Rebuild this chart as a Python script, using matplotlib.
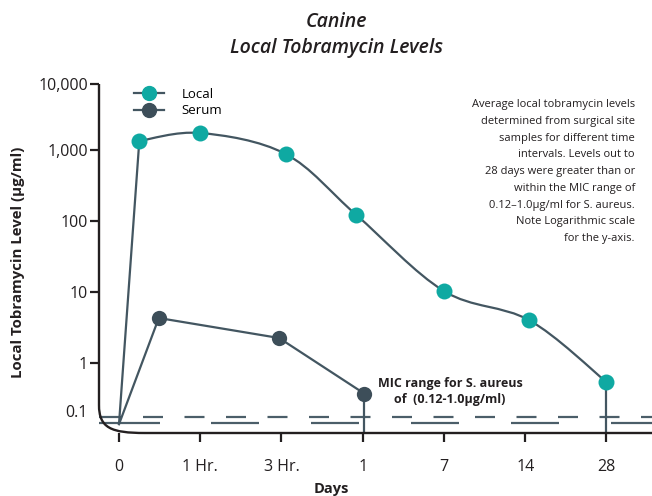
import numpy as np
import matplotlib
matplotlib.use("Agg")
import matplotlib.pyplot as plt
from matplotlib.path import Path
from matplotlib.patches import PathPatch
from matplotlib.lines import Line2D

# Category labels on the x-axis (evenly spaced slots)
day_labels = ["0", "1 Hr.", "3 Hr.", "1", "7", "14", "28"]

# Local levels (ug/ml); first entry is the start of the line at time zero
local_x = [0, 0.25, 1.0, 2.05, 2.92, 4.0, 5.05, 6.0]
local_y = [0.05, 1370, 1810, 880, 122, 10.3, 4.0, 0.40]

# Serum levels (ug/ml)
serum_x = [0, 0.49, 1.97, 3.02]
serum_y = [0.05, 4.3, 2.25, 0.23]

# MIC band lines (drawn just above the floor of the axis)
mic_upper = 0.073
mic_lower = 0.053

y_tick_values = [0.1, 1, 10, 100, 1000, 10000]
y_tick_labels = ["0.1", "1", "10", "100", "1,000", "10,000"]

note_text = ("Average local tobramycin levels\n"
             "determined from surgical site\n"
             "samples for different time\n"
             "intervals. Levels out to\n"
             "28 days were greater than or\n"
             "within the MIC range of\n"
             "0.12\u20131.0\u00b5g/ml for S. aureus.\n"
             "Note Logarithmic scale\n"
             "for the y-axis.")

teal = "#0fa9a2"
slate = "#3d4e59"
line_col = "#435661"
ink = "#231f20"

# the original axis is a log scale with uneven decade spacing
knots_log = [-1.5, -1, 0, 1, 2, 3, 4]
knots_u = [0, 22, 70, 141, 212, 283, 349]


def fwd(v):
    v = np.clip(np.asarray(v, dtype=float), 1e-9, None)
    return np.interp(np.log10(v), knots_log, knots_u)


def inv(u):
    return 10 ** np.interp(np.asarray(u, dtype=float), knots_u, knots_log)


plt.rcParams["font.family"] = ["Open Sans", "DejaVu Sans"]
plt.rcParams["lines.scale_dashes"] = False

W, H = 652, 496
PT = 72 / 100  # points per pixel
fig = plt.figure(figsize=(W / 100, H / 100), dpi=100)
ax = fig.add_axes([99 / W, 63 / H, 553 / W, 349 / H])
ax.set_yscale("function", functions=(fwd, inv))
ax.set_ylim(10 ** -1.5, 1e4)
ax.set_xlim(-0.246, 6.56)

for s in ax.spines.values():
    s.set_visible(False)

# rounded corner axis line
def axpt(px, py):
    return ((px - 99) / 553, (433 - py) / 349)

verts = [axpt(99, 84), axpt(99, 405), axpt(99, 428), axpt(111, 433),
         axpt(145, 433), axpt(652, 433)]
codes = [Path.MOVETO, Path.LINETO, Path.CURVE4, Path.CURVE4, Path.CURVE4,
         Path.LINETO]
ax.add_patch(PathPatch(Path(verts, codes), fill=False, edgecolor=ink, lw=1.7,
                       transform=ax.transAxes, clip_on=False, zorder=4))

# MIC dashed lines
upper_dash = [d * PT for d in [22, 22] + [20, 21.5] * 14]
lower_dash = [d * PT for d in [61, 51] + [48, 52] * 6]
ax.axhline(mic_upper, color="#4b5e69", lw=1.6, dashes=upper_dash, zorder=1)
ax.axhline(mic_lower, color="#4b5e69", lw=1.6, dashes=lower_dash, zorder=1)

# serum line (straight segments)
ax.plot(serum_x, serum_y, color=line_col, lw=1.6, zorder=2)
ax.vlines(serum_x[-1], 10 ** -1.5, serum_y[-1], color=line_col, lw=1.6, zorder=2)

# local line: straight rise, then smooth curve through the points
tr = ax.yaxis.get_transform()
px = np.array(local_x[1:], dtype=float)
pu = tr.transform(np.array(local_y[1:], dtype=float))
pts = np.column_stack([px, pu])
ext = np.vstack([pts[0], pts, pts[-1]])
verts = [(local_x[0], local_y[0]), (local_x[1], local_y[1])]
codes = [Path.MOVETO, Path.LINETO]
for i in range(1, len(ext) - 2):
    p0, p1, p2, p3 = ext[i - 1], ext[i], ext[i + 1], ext[i + 2]
    c1 = p1 + (p2 - p0) / 6
    c2 = p2 - (p3 - p1) / 6
    for c in (c1, c2, p2):
        verts.append((c[0], float(tr.inverted().transform(np.array([c[1]]))[0])))
        codes.append(Path.CURVE4)
ax.add_patch(PathPatch(Path(verts, codes), fill=False, edgecolor=line_col,
                       lw=1.6, transform=ax.transData, zorder=2))
ax.vlines(local_x[-1], 10 ** -1.5, local_y[-1], color=line_col, lw=1.6, zorder=2)

# markers
ax.plot(local_x[1:], local_y[1:], "o", color=teal, ms=11.5, mec="none", zorder=3)
ax.plot(serum_x[1:], serum_y[1:], "o", color=slate, ms=11, mec="none", zorder=3)

# ticks
ax.set_xticks(range(len(day_labels)))
ax.set_xticklabels(day_labels)
ax.set_yticks(y_tick_values)
ax.set_yticklabels(y_tick_labels)
ax.yaxis.set_minor_locator(matplotlib.ticker.NullLocator())
ax.tick_params(axis="x", length=6.5, width=1.6, color=ink, pad=12,
               labelsize=11.5, labelcolor=ink)
ax.tick_params(axis="y", length=6.5, width=1.6, color=ink, pad=1.5,
               labelsize=11.5, labelcolor=ink)
ax.yaxis.get_major_ticks()[0].tick1line.set_visible(False)

# legend
handles = [
    Line2D([], [], color=line_col, lw=1.6, marker="o", ms=10, mfc=teal, mec=teal),
    Line2D([], [], color=line_col, lw=1.6, marker="o", ms=10, mfc=slate, mec=slate),
]
ax.legend(handles, ["Local", "Serum"], loc="upper left",
          bbox_to_anchor=(134 / W, 1 - 88 / H), bbox_transform=fig.transFigure,
          frameon=False, fontsize=9.5, handlelength=2.3, handletextpad=1.3,
          labelspacing=0.25, borderpad=0, borderaxespad=0)

# titles and labels
fig.text(336 / W, 1 - 22 / H, "Canine", ha="center", va="center",
         fontsize=14, fontweight="semibold", style="italic", color=ink)
fig.text(337 / W, 1 - 48 / H, "Local Tobramycin Levels", ha="center",
         va="center", fontsize=14, fontweight="semibold", style="italic",
         color=ink)
fig.text(18 / W, 1 - 262 / H, "Local Tobramycin Level (\u00b5g/ml)",
         rotation=90, ha="center", va="center", fontsize=10.8,
         fontweight="bold", color=ink)
fig.text(331 / W, 1 - 489 / H, "Days", ha="center", va="center",
         fontsize=10.5, fontweight="bold", color=ink)
fig.text(635 / W, 1 - 99 / H, note_text, ha="right", va="top", fontsize=8,
         linespacing=1.72, color=ink)
fig.text(450 / W, 1 - 392 / H, "MIC range for S. aureus\nof  (0.12-1.0\u00b5g/ml)",
         ha="center", va="center", fontsize=9, fontweight="bold",
         linespacing=1.3, color=ink)

fig.savefig("out.png", dpi=100)
